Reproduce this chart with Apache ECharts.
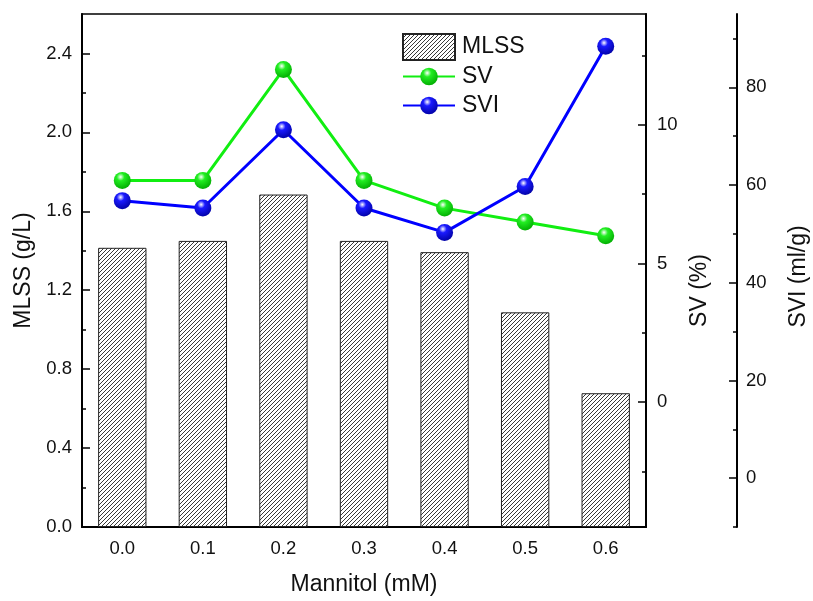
<!DOCTYPE html>
<html>
<head>
<meta charset="utf-8">
<script src="https://cdn.jsdelivr.net/npm/echarts@6/dist/echarts.min.js"></script>
<style>
  html, body { margin: 0; padding: 0; background: #fff; }
  #chart { width: 813px; height: 601px; }
</style>
</head>
<body>
<div id="chart"></div>
<script>
// 数据
const mannitol = ['0.0', '0.1', '0.2', '0.3', '0.4', '0.5', '0.6'];
const mlss = [1.415, 1.45, 1.685, 1.45, 1.393, 1.088, 0.678];
const sv = [8, 8, 12, 8, 7, 6.5, 6];
const svi = [56.8, 55.3, 71.3, 55.3, 50.3, 59.7, 88.4];

// 刻度
const mlssTicks = [0, 0.4, 0.8, 1.2, 1.6, 2.0, 2.4];
const mlssMinor = [0.2, 0.6, 1.0, 1.4, 1.8, 2.2];
const svTicks = [0, 5, 10];
const svMinor = [-2.5, 2.5, 7.5, 12.5];
const sviTicks = [0, 20, 40, 60, 80];
const sviMinor = [-10, 10, 30, 50, 70, 90];

// 斜线填充
function hatch() {
  const c = document.createElement('canvas');
  c.width = 4; c.height = 4;
  const ctx = c.getContext('2d');
  ctx.fillStyle = '#fff';
  ctx.fillRect(0, 0, 4, 4);
  ctx.strokeStyle = '#222';
  ctx.lineWidth = 0.9;
  ctx.beginPath();
  ctx.moveTo(0, 4); ctx.lineTo(4, 0);
  ctx.moveTo(-1, 1); ctx.lineTo(1, -1);
  ctx.moveTo(3, 5); ctx.lineTo(5, 3);
  ctx.stroke();
  return c;
}

function ball(color, dark) {
  return {
    type: 'radial', x: 0.4, y: 0.3, r: 0.75,
    colorStops: [
      { offset: 0, color: '#ffffff' },
      { offset: 0.3, color: color },
      { offset: 1, color: dark }
    ]
  };
}

const font = '"Liberation Sans", Arial, sans-serif';
const labelStyle = { fontSize: 18.5, color: '#111', fontFamily: font };
const nameStyle = { fontSize: 23, color: '#111', fontFamily: font };
const legendText = { fontSize: 23, color: '#111', fontFamily: font, padding: [0, 0, 0, 2] };

function majorAxis(o) {
  return Object.assign({
    type: 'value',
    axisLine: { show: true, lineStyle: { color: '#000', width: 2 } },
    splitLine: { show: false },
    nameLocation: 'middle'
  }, o);
}
function minorAxis(o, vals) {
  return Object.assign({
    type: 'value',
    axisLine: { show: false },
    axisTick: { show: true, inside: true, length: 4, customValues: vals, lineStyle: { color: '#000', width: 1.5 } },
    axisLabel: { show: false, customValues: vals },
    splitLine: { show: false }
  }, o);
}
function ticks(vals) {
  return { show: true, inside: true, length: 8, customValues: vals, lineStyle: { color: '#000', width: 1.5 } };
}

const chart = echarts.init(document.getElementById('chart'));
chart.setOption({
  animation: false,
  backgroundColor: '#fff',
  grid: {
    left: 82, right: 167, top: 14, bottom: 74, outerBoundsMode: 'none',
    show: true, borderColor: '#000', borderWidth: 1.5
  },
  legend: [
    {
      orient: 'vertical', left: 402, top: 33, padding: 0,
      itemWidth: 52, itemHeight: 26,
      textStyle: legendText,
      data: [{ name: 'MLSS', icon: 'rect' }]
    },
    {
      orient: 'vertical', left: 402, top: 65, padding: 0,
      itemWidth: 52, itemHeight: 22, itemGap: 6,
      textStyle: legendText,
      data: ['SV', 'SVI']
    }
  ],
  xAxis: {
    type: 'category',
    data: mannitol,
    axisLine: { lineStyle: { color: '#000', width: 2 } },
    axisTick: { show: false },
    axisLabel: Object.assign({ margin: 12 }, labelStyle),
    name: 'Mannitol (mM)', nameLocation: 'middle', nameGap: 46, nameTextStyle: nameStyle
  },
  yAxis: [
    majorAxis({
      position: 'left', min: 0, max: 2.6,
      axisTick: ticks(mlssTicks),
      axisLabel: Object.assign({ customValues: mlssTicks, margin: 10, formatter: v => v.toFixed(1) }, labelStyle),
      name: 'MLSS (g/L)', nameGap: 47, nameTextStyle: nameStyle
    }),
    minorAxis({ position: 'left', min: 0, max: 2.6 }, mlssMinor),
    majorAxis({
      position: 'right', min: -4.5, max: 14,
      axisTick: ticks(svTicks),
      axisLabel: Object.assign({ customValues: svTicks, margin: 11 }, labelStyle),
      name: 'SV (%)', nameGap: 32, nameTextStyle: Object.assign({ padding: [0, 40, 0, 0] }, nameStyle)
    }),
    minorAxis({ position: 'right', min: -4.5, max: 14 }, svMinor),
    majorAxis({
      position: 'right', offset: 91, min: -10, max: 95,
      axisTick: ticks(sviTicks),
      axisLabel: Object.assign({ customValues: sviTicks, margin: 9 }, labelStyle),
      name: 'SVI (ml/g)', nameGap: 50, nameTextStyle: Object.assign({ padding: [0, 12, 0, 0] }, nameStyle)
    }),
    minorAxis({ position: 'right', offset: 91, min: -10, max: 95 }, sviMinor)
  ],
  series: [
    {
      name: 'MLSS', type: 'bar', yAxisIndex: 0, data: mlss, barWidth: '60%',
      itemStyle: { color: { image: hatch(), repeat: 'repeat' }, borderColor: '#222', borderWidth: 1 }
    },
    {
      name: 'SV', type: 'line', yAxisIndex: 2, data: sv, z: 3,
      symbol: 'circle', symbolSize: 17,
      lineStyle: { color: '#11ee11', width: 3 },
      itemStyle: { color: ball('#22ee22', '#00a800') }
    },
    {
      name: 'SVI', type: 'line', yAxisIndex: 4, data: svi, z: 4,
      symbol: 'circle', symbolSize: 17,
      lineStyle: { color: '#0000ff', width: 3 },
      itemStyle: { color: ball('#1a1aff', '#0000a0') }
    }
  ]
});
</script>
</body>
</html>
